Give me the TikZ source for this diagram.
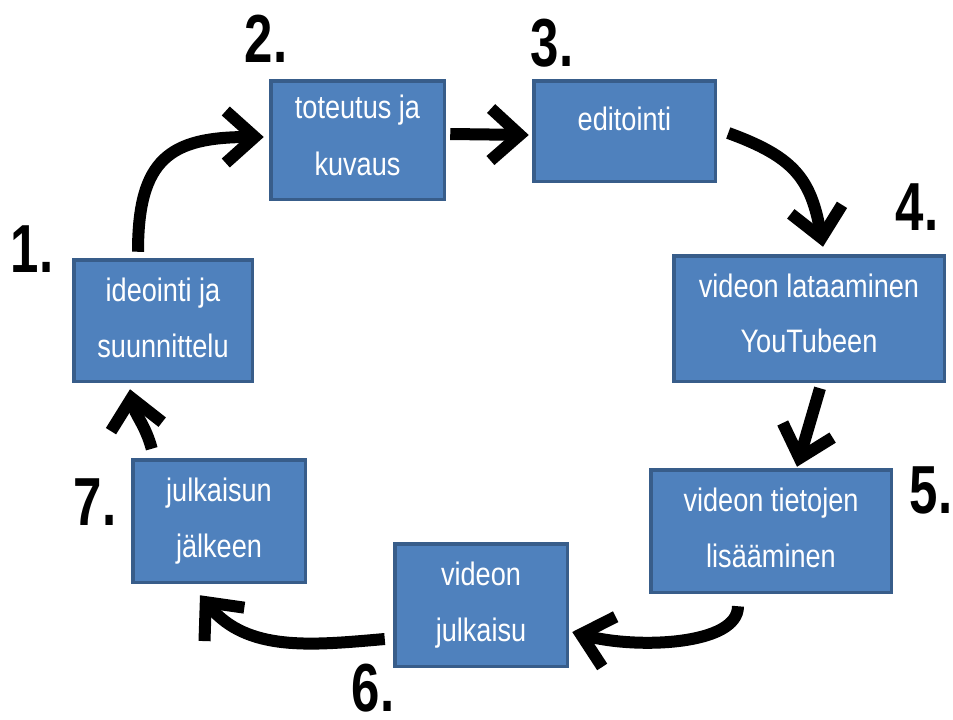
\documentclass[tikz,border=0pt]{standalone}
\usepackage{fontspec}
\setmainfont{Liberation Sans}
\newfontfamily\boxfont[FakeStretch=0.835]{Liberation Sans}
\newfontfamily\numfont[FakeStretch=0.75]{Liberation Sans}
\usetikzlibrary{arrows.meta,calc}
\definecolor{boxfill}{HTML}{4F81BD}
\definecolor{boxborder}{HTML}{385D8A}
\begin{document}
\begin{tikzpicture}[x=1pt,y=-1pt,
  blk/.style={rectangle, draw=boxborder, fill=boxfill, line width=3.5pt, inner sep=0pt, outer sep=0pt},
  txt/.style={font=\boxfont\fontsize{32.5}{38}\selectfont, text=white, inner sep=0pt, anchor=base},
  num/.style={font=\numfont\bfseries\fontsize{68}{80}\selectfont, inner sep=0pt, anchor=base},
  arr/.style={line width=12pt, -{Straight Barb[length=29pt,width=52pt,line width=12pt]}}]
\useasboundingbox (0,0) rectangle (953,720);
% boxes
\node[blk, minimum width=178.5pt, minimum height=121.5pt] (b1) at (163,320.5) {};
\node[blk, minimum width=173.5pt, minimum height=118.5pt] (b2) at (357.5,140) {};
\node[blk, minimum width=181.5pt, minimum height=100.5pt] (b3) at (624.5,131) {};
\node[blk, minimum width=270.5pt, minimum height=125.5pt] (b4) at (809,318.5) {};
\node[blk, minimum width=240.5pt, minimum height=122.5pt] (b5) at (771,531) {};
\node[blk, minimum width=172.5pt, minimum height=122.5pt] (b6) at (481,605) {};
\node[blk, minimum width=172.5pt, minimum height=122.5pt] (b7) at (219,521) {};
% texts
\node[txt] (t1a) at ($(b1.north)+(0,42)$) {ideointi ja};
\node[txt] (t1b) at ($(b1.north)+(0,98)$) {suunnittelu};
\node[txt] (t2a) at ($(b2.north)+(0,38)$) {toteutus ja};
\node[txt] (t2b) at ($(b2.north)+(0,95)$) {kuvaus};
\node[txt] (t3a) at ($(b3.north)+(0,50)$) {editointi};
\node[txt] (t4a) at ($(b4.north)+(0,42)$) {videon lataaminen};
\node[txt] (t4b) at ($(b4.north)+(0,97)$) {YouTubeen};
\node[txt] (t5a) at ($(b5.north)+(0,42)$) {videon tietojen};
\node[txt] (t5b) at ($(b5.north)+(0,98)$) {lisääminen};
\node[txt] (t6a) at ($(b6.north)+(0,42)$) {videon};
\node[txt] (t6b) at ($(b6.north)+(0,98)$) {julkaisu};
\node[txt] (t7a) at ($(b7.north)+(0,42)$) {julkaisun};
\node[txt] (t7b) at ($(b7.north)+(0,98)$) {jälkeen};
% numbers
\node[num] (n1) at (32,272) {1.};
\node[num] (n2) at (266,62) {2.};
\node[num] (n3) at (552,66) {3.};
\node[num] (n4) at (917,230) {4.};
\node[num] (n5) at (931,513) {5.};
\node[num] (n6) at (373,711) {6.};
\node[num] (n7) at (95,525) {7.};
% arrows
\draw[arr] ($(b1.north)+(-25,-8)$) to[out=90,in=180,looseness=1.4] ($(b2.west)+(-7,-3)$);
\draw[arr] ($(b2.east)+(6,-6)$) -- ($(b3.west)+(-5,4)$);
\draw[arr] ($(b3.east)+(13,2)$) to[out=-20,in=100,looseness=1.2] ($(b4.north)+(14,-9)$);
\draw[arr] ($(b4.south)+(11,7)$) -- ($(b5.north)+(26,-3)$);
\draw[arr] ($(b5.south)+(-33,14)$) to[out=-90,in=-15,out looseness=0.6] ($(b6.east)+(5,27)$);
\draw[arr] ($(b6.west)+(-10,34)$) to[out=185,in=-50] ($(b7.south)+(-19,13)$);
\draw[arr] ($(b7.north west)+(19,-11)$) to[out=105,in=-80] ($(b1.south)+(-33,8)$);
\end{tikzpicture}
\end{document}
